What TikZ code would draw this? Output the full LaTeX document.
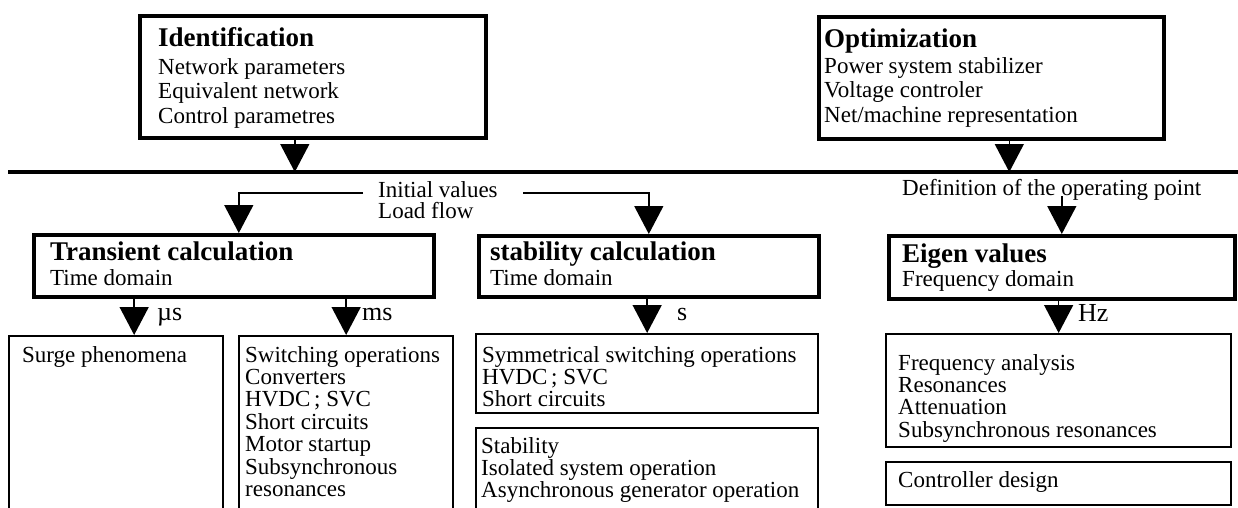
\documentclass[tikz,border=0pt]{standalone}
\usepackage{fontspec}
\setmainfont{Liberation Serif}
\usetikzlibrary{arrows.meta,calc}
% left-aligned stack of lines whose baseline is the first line's baseline
\newcommand\rowsof[1]{\vtop{\halign{##\hfil\cr#1\crcr}}}

\begin{document}
\begin{tikzpicture}[x=1pt,y=-1pt,
  heavybox/.style={draw, line width=3.6pt, inner sep=0pt, anchor=north west},
  lightbox/.style={draw, line width=2.3pt, inner sep=0pt, anchor=north west},
  head/.style={font=\fontsize{27}{27}\selectfont\bfseries, inner sep=0pt, anchor=base west},
  topbody/.style={font=\fontsize{23}{24.5}\selectfont, inner sep=0pt, anchor=base west},
  body/.style={font=\fontsize{23}{22.4}\selectfont, inner sep=0pt, anchor=base west},
  unit/.style={font=\fontsize{26}{26}\selectfont, inner sep=0pt, anchor=base west},
  arr/.style={line width=1.5pt, -{Triangle[length=28pt,width=29pt]}}]

\useasboundingbox (0,0) rectangle (1238,507);
\clip (0,0) rectangle (1238,507);

% ---------- upper boxes ----------
\node[heavybox, minimum width=346pt, minimum height=122pt] (ident) at (138,14) {};
\node[head] (identT) at (158,46) {Identification};
\node[topbody] (identB) at (158,74) {\rowsof{Network parameters\cr Equivalent network\cr Control parametres}};

\node[heavybox, minimum width=345pt, minimum height=122pt] (opt) at (817,15) {};
\node[head] (optT) at (824,47) {Optimization};
\node[topbody] (optB) at (824,73) {\rowsof{Power system stabilizer\cr Voltage controler\cr Net/machine representation}};

% ---------- common bus ----------
\coordinate (busW) at (8,172);
\coordinate (busE) at (1242,172);
\draw[line width=4.5pt] (busW) -- (busE);

\coordinate (ix) at ($(ident.south)+(-18,0)$);
\coordinate (ox) at ($(opt.south)+(18,0)$);
\draw[arr] (ix) -- (ix |- busW);
\draw[arr] (ox) -- (ox |- busW);

% ---------- calculation boxes ----------
\node[heavybox, minimum width=400pt, minimum height=62pt] (trans) at (32,233) {};
\node[head] (transT) at (50,260) {Transient calculation};
\node[body] (transB) at (50,285) {Time domain};

\node[heavybox, minimum width=340pt, minimum height=61pt] (stab) at (477,234) {};
\node[head] (stabT) at (490,260) {stability calculation};
\node[body] (stabB) at (490,285) {Time domain};

\node[heavybox, minimum width=346pt, minimum height=63pt] (eigen) at (887,234) {};
\node[head] (eigenT) at (902,262) {Eigen values};
\node[body] (eigenB) at (902,286) {Frequency domain};

% ---------- data passed down from the bus ----------
\node[body, font=\fontsize{23}{21}\selectfont] (init) at (378,197) {\rowsof{Initial values\cr Load flow}};
\coordinate (ivl) at (363,193);
\coordinate (ivr) at (523,193);
\draw[arr] (ivl) -| ($(trans.north)+(5,0)$);
\draw[arr] (ivr) -| (stab.north);

\node[body] (def) at (902,195) {Definition of the operating point};
\draw[arr] ($(eigen.north |- def.base)+(0,1)$) -- (eigen.north);

% ---------- result boxes ----------
\node[lightbox, minimum width=214pt, minimum height=200pt] (surge) at (8,335) {};
\node[body] (surgeT) at (22,362) {Surge phenomena};

\node[lightbox, minimum width=214pt, minimum height=200pt] (switch) at (238,335) {};
\node[body] (switchT) at (245,362) {\rowsof{Switching operations\cr Converters\cr HVDC\,; SVC\cr Short circuits\cr Motor startup\cr Subsynchronous\cr resonances}};

\node[lightbox, minimum width=342pt, minimum height=79pt] (symm) at (475,333) {};
\node[body] (symmT) at (482,362) {\rowsof{Symmetrical switching operations\cr HVDC\,; SVC\cr Short circuits}};

\node[lightbox, minimum width=342pt, minimum height=120pt] (stabl) at (475,427) {};
\node[body] (stablT) at (481,453) {\rowsof{Stability\cr Isolated system operation\cr Asynchronous generator operation}};

\node[lightbox, minimum width=345pt, minimum height=113pt] (freq) at (885,333) {};
\node[body] (freqT) at (898,370) {\rowsof{Frequency analysis\cr Resonances\cr Attenuation\cr Subsynchronous resonances}};

\node[lightbox, minimum width=345pt, minimum height=43pt] (ctrl) at (885,461) {};
\node[body] (ctrlT) at (898,487) {Controller design};

% ---------- time scales ----------
\coordinate (sx) at ($(surge.north)+(18,0)$);
\draw[arr] (sx |- trans.south) -- (sx);
\draw[arr] (switch.north |- trans.south) -- (switch.north);
\draw[arr] (symm.north |- stab.south) -- (symm.north);
\draw[arr] (freq.north |- eigen.south) -- (freq.north);

\node[unit] (us) at (157,320) {µs};
\node[unit] (ms) at (362,320) {ms};
\node[unit] (sec) at (677,320) {s};
\node[unit] (hz) at (1078,321) {Hz};
\end{tikzpicture}
\end{document}
